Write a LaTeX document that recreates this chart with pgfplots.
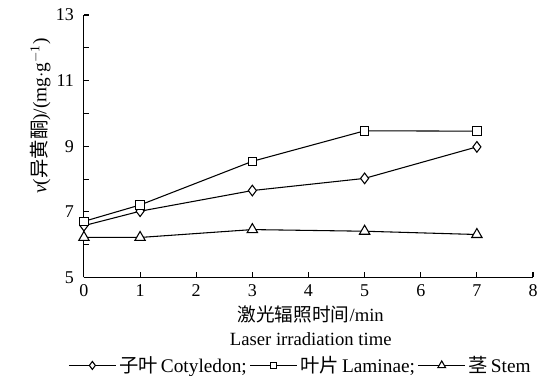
\documentclass[border=0pt]{standalone}
\usepackage{pgfplots}
\pgfplotsset{compat=1.18}
\usepackage{fontspec}
\setmainfont{Liberation Serif}
\newfontfamily\cjk{Noto Sans CJK SC}
\begin{document}
\begin{tikzpicture}
\begin{axis}[
  name=ax,
  scale only axis, width=337pt, height=197pt,
  xmin=0, xmax=8, ymin=5, ymax=13,
  axis lines*=left,
  axis line style={line width=0.8pt},
  xtick={0,1,...,8}, ytick={5,6,...,13},
  yticklabels={5,,7,,9,,11,,13},
  tick align=inside, major tick length=4pt,
  tick style={line width=0.8pt, black},
  /pgf/number format/assume math mode=true,
  tick label style={font=\fontsize{13.5}{16}\selectfont},
  label style={font=\fontsize{14}{18}\selectfont},
  xticklabel style={yshift=-2pt},
  yticklabel style={xshift=-4pt},
  ylabel={\textit{v}({\cjk 异黄酮})/(mg$\cdot$g\textsuperscript{$-$1})},
  ylabel style={at={(axis description cs:-0.097,0.615)}, anchor=center, font=\fontsize{14.5}{16}\selectfont},
  xlabel={{\cjk 激光辐照时间}/min\\Laser irradiation time},
  xlabel style={at={(axis description cs:0.505,-0.09)}, anchor=north, align=center},
  legend columns=3,
  legend style={at={(axis description cs:0.483,-0.335)}, anchor=center, draw=none, fill=none,
    font=\fontsize{14.5}{16}\selectfont, inner sep=0pt,
    /tikz/every even column/.append style={column sep=0pt}},
  legend cell align=left,
  legend image code/.code={\draw[mark repeat=2,mark phase=2,#1, mark options={scale=0.75, fill=white, solid}] plot coordinates {(0cm,0cm) (0.62cm,0cm) (1.24cm,0cm)};},
  every axis plot/.append style={black, line width=0.8pt, mark options={fill=white, solid, line width=0.8pt}},
]
\addplot[mark=diamond*, mark size=4pt] coordinates {(0,6.58) (1,7.02) (3,7.65) (5,8.02) (7,8.98)};
\addlegendentry{{\cjk 子叶}\,Cotyledon;}
\addplot[mark=square*, mark size=3.2pt] coordinates {(0,6.71) (1,7.21) (3,8.54) (5,9.47) (7,9.46)};
\addlegendentry{{\cjk 叶片}\,Laminae;}
\addplot[mark=triangle*, mark size=4.5pt] coordinates {(0,6.22) (1,6.22) (3,6.46) (5,6.41) (7,6.31)};
\addlegendentry{{\cjk 茎}\,Stem}
\end{axis}
\path (ax.south west) ++(-63pt,-73.5pt) coordinate (bbA);
\path (ax.north east) ++(8.25pt,11.25pt) coordinate (bbB);
\pgfresetboundingbox
\path (bbA) rectangle (bbB);
\end{tikzpicture}
\end{document}
